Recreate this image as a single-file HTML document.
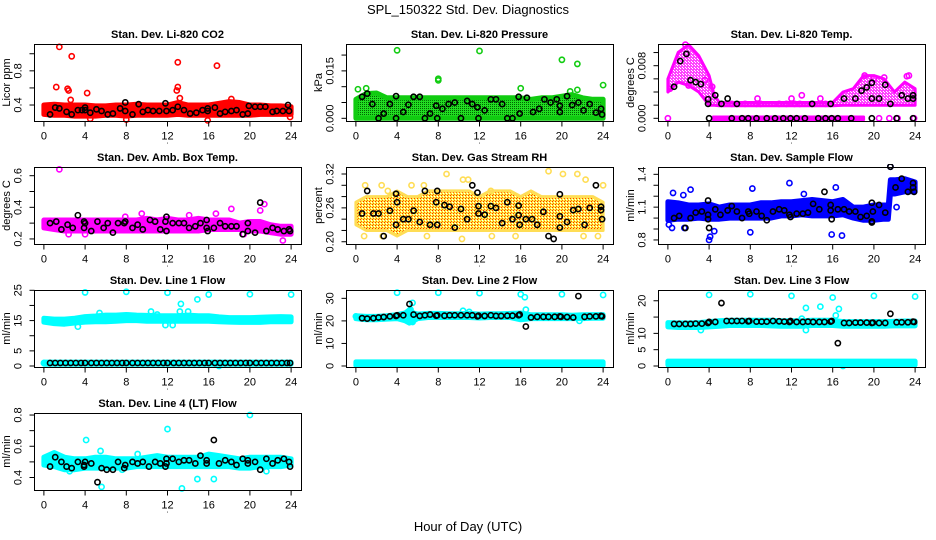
<!DOCTYPE html>
<html><head><meta charset="utf-8"><style>
html,body{margin:0;padding:0;background:#fff;}
svg{display:block;font-family:"Liberation Sans",Arial,sans-serif;}
</style></head><body>
<svg id="chart" width="936" height="540" viewBox="0 0 936 540">
<defs>
<pattern id="rhpat" width="3" height="3" patternUnits="userSpaceOnUse"><rect width="3" height="3" fill="#ffee44"/><rect width="1" height="1" fill="#ff2200"/><rect x="2" y="1" width="1" height="1" fill="#ffffff"/><rect x="1" y="2" width="1" height="1" fill="#ff6600"/></pattern>
<pattern id="prpat" width="2" height="2" patternUnits="userSpaceOnUse"><rect width="2" height="2" fill="#22dd22"/><rect width="1" height="1" fill="#006600"/></pattern>
<pattern id="ltpat" width="3" height="3" patternUnits="userSpaceOnUse"><rect width="3" height="3" fill="#ff44ff"/><rect x="1" y="1" width="1" height="1" fill="#ffffff"/><rect x="2" y="2" width="1" height="1" fill="#ffffff"/></pattern>
</defs>
<text x="468" y="14" text-anchor="middle" font-size="13">SPL_150322  Std. Dev. Diagnostics</text>
<text x="468" y="531" text-anchor="middle" font-size="13">Hour of Day (UTC)</text>
</svg>
<script>
const hours = [0,1,2,3,4,5,6,7,8,9,10,11,12,13,14,15,16,17,18,19,20,21,22,23,24];
const xTicks = [0,4,8,12,16,20,24];

// Panel 1: CO2
const co2BandLo = [0.29,0.28,0.28,0.27,0.27,0.27,0.28,0.28,0.27,0.28,0.28,0.28,0.28,0.29,0.28,0.28,0.28,0.28,0.28,0.28,0.28,0.29,0.29,0.29,0.29];
const co2BandHi = [0.40,0.41,0.40,0.40,0.40,0.39,0.39,0.40,0.40,0.41,0.40,0.40,0.40,0.43,0.40,0.40,0.40,0.42,0.44,0.43,0.40,0.40,0.39,0.39,0.38];
const co2OutX = [1.5,2.7,1.2,2.3,2.4,2.6,4.2,13,12.9,13,13.2,16.8,18.2,15.9,23.9,4.5,8];
const co2OutY = [1.08,0.97,0.61,0.59,0.57,0.46,0.54,0.90,0.57,0.61,0.48,0.86,0.47,0.22,0.26,0.24,0.23];
const co2BlkX = [0.6,1.1,1.5,2.2,2.7,3.3,3.7,4.0,4.0,4.5,5.1,5.6,6.2,6.7,7.4,7.9,7.9,8.6,9.2,9.6,10.1,10.6,11.2,11.8,11.9,12.5,13,13.6,14.2,14.8,15.4,15.9,15.9,16.6,17.1,17.6,18.2,18.7,19.3,19.8,19.9,20.5,21.0,21.5,22.2,22.6,23.2,23.7,23.8];
const co2BlkY = [0.29,0.37,0.36,0.32,0.29,0.34,0.34,0.34,0.37,0.31,0.35,0.33,0.29,0.30,0.36,0.43,0.33,0.29,0.41,0.32,0.34,0.33,0.33,0.42,0.33,0.34,0.38,0.34,0.30,0.31,0.34,0.36,0.33,0.37,0.30,0.32,0.33,0.34,0.29,0.30,0.39,0.38,0.38,0.38,0.32,0.33,0.33,0.40,0.33];

// Panel 2: Pressure
const prBandLo = [0,0,0,0,0,0,0,0,0,0,0,0,0,0,0,0,0,0,0,0,0,0,0,0,0];
const prBandHi = [0.006,0.0078,0.008,0.0065,0.0065,0.0065,0.0065,0.0065,0.0065,0.0065,0.0065,0.0065,0.0065,0.0065,0.0065,0.0065,0.0065,0.006,0.0065,0.0065,0.007,0.0075,0.0065,0.006,0.006];
const prOutX = [4,12,20,21.5,8,8,0.2,1,16,21.5,24,20.8];
const prOutY = [0.0215,0.0213,0.0185,0.0172,0.0125,0.012,0.0092,0.0095,0.0095,0.009,0.0105,0.0085];
const prBlkX = [0.6,1.1,1.6,2.2,2.7,3.3,3.9,3.9,4.6,5.1,5.6,6.2,6.7,7.2,7.8,7.9,8.4,9.0,9.6,10.2,10.8,11.3,11.8,11.9,12.5,13.1,13.6,14.2,14.7,15.2,15.8,15.9,16.6,17.2,17.8,18.3,18.9,19.5,19.8,19.8,20.5,21.0,21.6,22.1,22.7,23.3,23.8,23.9];
const prBlkY = [0.0068,0.0078,0.0045,0,0.0015,0.0045,0.007,0,0.002,0.0043,0.0068,0.0068,0,0.0015,0.004,0,0.003,0.0045,0.005,0,0.0055,0.0045,0.0035,0,0.0025,0.006,0.006,0.0045,0,0,0.0068,0.0015,0.0065,0.002,0.003,0.006,0.005,0.006,0.004,0.002,0.007,0.0042,0.005,0.0025,0.0045,0.0018,0.003,0.0012];

// Panel 3: Li-820 Temp
const ltHours = [0,1,2,3,4,4.5,5,16,17,18,19,20,21,22,23,24];
const ltBandLo = [0.004,0.0055,0.005,0.004,0.002,0.002,0.0019,0.0019,0.002,0.002,0.002,0.002,0.002,0.002,0.002,0.002];
const ltBandHi = [0.006,0.010,0.0112,0.0095,0.0065,0.0035,0.0024,0.0024,0.004,0.0045,0.0065,0.0065,0.006,0.004,0.0055,0.0045];
const ltZeroHours = [4.4,19.0];
const ltZeroLo = [-0.0002,-0.0002];
const ltZeroHi = [0.0002,0.0002];
const ltOutX = [0,0.2,1.7,19.1,20,21,23.2,23.4,13,8.7,12,14.8,4.3,3.6,2,20.5,21.5,22.3,23.9,6.2,7.5,8.6,9.0,10.8,11.5,12.3,12.8,14,15.3];
const ltOutY = [0,0.0045,0.0112,0.0065,0.006,0.0062,0.0064,0.0065,0.0035,0.003,0.003,0.003,0.0048,0.0058,0.005,0,0,0,0,0.0022,0.0022,0.0022,0.0022,0.0022,0.0022,0.0022,0.0022,0.0022,0.0022];
const ltBlkX = [0.6,1.2,1.8,2.2,2.7,3.2,3.9,3.9,4.0,4.6,5.2,5.8,6.2,6.7,7.2,7.8,8.6,9.6,10.4,11.2,11.9,12.5,13.3,14.0,14.6,15.3,15.8,15.9,16.5,17.1,17.8,18.2,18.8,19.3,19.8,19.8,19.8,20.5,21.1,21.6,22.2,22.7,23.3,23.8,23.8,23.8];
const ltBlkY = [0.0048,0.0087,0.0098,0.0058,0.0055,0.0052,0.0029,0.0022,0,0.0035,0.0022,0.003,0,0.0022,0,0,0,0,0,0,0,0,0,0.0022,0,0,0.0022,0,0,0.003,0,0.003,0.0042,0.0047,0.0054,0.003,0,0.003,0.0051,0.0022,0,0.0035,0.003,0.0035,0.003,0];

// Panel 4: Amb Box Temp
const abBandLo = [0.27,0.26,0.25,0.25,0.25,0.25,0.25,0.25,0.25,0.25,0.25,0.25,0.25,0.25,0.25,0.25,0.26,0.26,0.26,0.26,0.25,0.25,0.24,0.23,0.23];
const abBandHi = [0.32,0.32,0.32,0.32,0.32,0.32,0.32,0.32,0.32,0.32,0.33,0.32,0.33,0.32,0.32,0.33,0.32,0.32,0.32,0.30,0.31,0.31,0.29,0.28,0.28];
const abOutX = [1.5,21,21.4,23.2,18.2,16.7,9.5,14.1,7.9,4,2.4,19.4];
const abOutY = [0.64,0.38,0.42,0.19,0.39,0.36,0.36,0.35,0.34,0.23,0.23,0.23];
const abBlkX = [0.6,1.2,1.7,2.3,2.8,3.3,3.9,3.9,4.0,4.6,5.2,5.8,6.2,6.7,7.2,7.8,7.9,8.6,9.1,9.6,10.3,10.8,11.3,11.8,11.9,11.9,12.5,13.1,13.6,14.1,14.7,15.2,15.8,15.8,15.9,16.5,17.1,17.6,18.2,18.7,19.3,19.8,19.8,20.5,21,21.6,22.2,22.7,23.3,23.8,23.9];
const abBlkY = [0.30,0.31,0.26,0.29,0.27,0.35,0.31,0.27,0.30,0.25,0.31,0.27,0.30,0.24,0.30,0.30,0.31,0.27,0.29,0.26,0.32,0.31,0.26,0.31,0.34,0.25,0.30,0.30,0.30,0.27,0.28,0.30,0.32,0.27,0.25,0.27,0.30,0.28,0.28,0.28,0.23,0.30,0.25,0.24,0.43,0.25,0.27,0.26,0.25,0.26,0.25];

// Panel 5: Gas Stream RH
const rhBandLo = [0.23,0.22,0.22,0.22,0.21,0.22,0.22,0.22,0.22,0.22,0.22,0.22,0.22,0.22,0.22,0.22,0.22,0.22,0.22,0.22,0.22,0.22,0.22,0.22,0.22];
const rhBandHi = [0.27,0.28,0.28,0.28,0.29,0.28,0.28,0.29,0.29,0.29,0.29,0.29,0.28,0.29,0.29,0.29,0.28,0.29,0.28,0.28,0.28,0.28,0.28,0.28,0.27];
const rhOutX = [0.9,2.5,3.1,5.4,6.6,8.8,10.4,10.9,13.1,18.7,20.1,21.5,22.3,24,0.8,2.6,10.3,13.2,22.1,23.5,15.5,6.9];
const rhOutY = [0.30,0.30,0.29,0.30,0.30,0.32,0.31,0.31,0.29,0.325,0.32,0.32,0.31,0.30,0.21,0.21,0.205,0.21,0.21,0.21,0.21,0.21];
const rhBlkX = [0.6,1.1,1.7,2.2,2.7,3.3,3.9,3.9,4.0,4.6,5.1,5.6,6.2,6.7,7.2,7.8,7.9,7.9,8.6,9.1,9.6,10.2,10.8,11.3,11.8,11.9,11.9,12.5,13.1,13.6,14.2,14.7,15.2,15.8,15.8,15.9,16.5,17.1,17.6,18.2,18.7,19.2,19.8,19.8,19.8,20.5,21.1,21.6,22.2,22.7,23.3,23.8,23.8,23.9];
const rhBlkY = [0.25,0.29,0.25,0.25,0.21,0.255,0.285,0.23,0.27,0.24,0.24,0.255,0.235,0.29,0.23,0.27,0.23,0.29,0.265,0.262,0.225,0.258,0.24,0.30,0.287,0.25,0.263,0.248,0.263,0.26,0.233,0.27,0.24,0.264,0.247,0.23,0.24,0.24,0.23,0.253,0.21,0.205,0.284,0.245,0.225,0.235,0.256,0.258,0.23,0.26,0.30,0.262,0.256,0.24];

// Panel 6: Sample Flow
const sfHours = [0,1,2,3,4,5,6,7,8,9,10,11,12,13,14,15,16,17,18,19,20,21,21.4,21.6,22,23,24];
const sfBandLo = [0.98,0.99,0.99,1.0,0.99,0.99,1.0,1.0,1.0,1.0,1.0,1.02,1.02,1.03,1.02,1.02,1.02,1.03,1.0,0.98,0.98,0.99,0.99,1.22,1.22,1.24,1.24];
const sfBandHi = [1.15,1.14,1.12,1.12,1.13,1.10,1.12,1.12,1.12,1.14,1.14,1.15,1.15,1.16,1.17,1.16,1.15,1.17,1.10,1.10,1.12,1.12,1.12,1.35,1.35,1.36,1.33];
const sfOutX = [0.1,0.4,1.6,4.1,4.0,4.5,8.0,15.9,16.9,11.8,13.2,16.3,8.2,2.2,0.5,1.5,22.2,21.6];
const sfOutY = [0.94,0.91,0.91,0.83,0.8,0.88,0.87,0.85,0.84,1.32,1.22,1.28,1.27,1.26,1.23,1.21,1.1,1.47];
const sfBlkX = [0.6,1.1,1.7,2.2,2.7,3.3,3.9,3.9,3.9,4.0,4.6,5.1,5.8,6.2,6.7,7.2,7.8,7.9,8.6,9.1,9.6,10.2,10.8,11.3,11.8,11.9,12.5,13.1,13.6,14.1,14.7,15.2,15.8,15.8,15.9,16.5,17.1,17.6,18.2,18.7,19.3,19.8,19.8,19.8,19.9,20.5,21.1,21.6,22.1,22.7,23.3,23.8,23.9,23.8];
const sfBlkY = [1.0,1.02,0.91,1.0,1.05,1.06,1.16,1.03,0.99,0.91,1.08,1.03,1.07,1.11,1.06,1.0,1.06,1.04,1.06,1.02,0.98,1.06,1.08,1.07,1.03,1.01,1.04,1.04,1.05,1.13,1.08,1.24,1.12,1.07,0.99,1.08,1.08,1.06,1.06,1.01,1.02,1.14,0.97,0.96,1.06,1.12,1.05,1.47,1.28,1.36,1.24,1.28,1.24,1.32];

// Panel 7: Line 1 Flow
const l1BandLo = [14.5,14,13.8,14.2,14.5,14.6,14.6,14.8,15,15,14.8,14.8,14.8,14.8,14.8,14.8,14.8,14.6,14.5,14.4,14.4,14.4,14.6,14.6,14.6];
const l1BandHi = [15.8,15.5,15.5,15.8,16.3,16.5,16.8,16.8,17,16.8,16.7,16.6,16.6,16.6,16.8,16.6,16.6,16.2,16,16,16,16.1,16.2,16.3,16.2];
const l1ZeroLo = [0.6,0.6,0.6,0.6,0.6,0.6,0.6,0.6,0.6,0.6,0.6,0.6,0.6,0.6,0.6,0.6,0.6,0.6,0.6,0.6,0.6,0.6,0.6,0.6,0.6];
const l1ZeroHi = [1.3,1.3,1.3,1.3,1.3,1.3,1.3,1.3,1.3,1.3,1.3,1.3,1.3,1.3,1.3,1.3,1.3,1.3,1.3,1.3,1.3,1.3,1.3,1.3,1.3];
const l1OutX = [4,8,12,16,20,24,14.9,13.3,13.2,14,10.4,5.4,11,3.3,11.8,12.5,0,17];
const l1OutY = [24.3,24.5,24.2,23.6,23.7,23.6,22,20.5,18,18,18,17.5,17,13,13.5,13.5,1,0];
const l1BlkX = [0.6,1.1,1.6,2.1,2.6,3.1,3.6,4.0,4.6,5.1,5.6,6.1,6.6,7.1,7.6,8.0,8.6,9.1,9.6,10.1,10.6,11.1,11.6,12.0,12.6,13.1,13.6,14.1,14.6,15.1,15.6,16.0,16.6,17.1,17.6,18.1,18.6,19.1,19.6,20.0,20.6,21.1,21.6,22.1,22.6,23.1,23.6,23.9];
const l1BlkY = [1,1,1,1,1,1,1,1,1,1,1,1,1,1,1,1,1,1,1,1,1,1,1,1,1,1,1,1,1,1,1,1,1,1,1,1,1,1,1,1,1,1,1,1,1,1,1,1];

// Panel 8: Line 2 Flow
const l2Hours = [0,1,2,3,4,4.8,5.2,5.6,6,7,8,9,10,11,12,13,14,15,16,17,18,19,20,21,22,23,24];
const l2BandLo = [21,20.5,20.5,20.8,21,20,19,20,21,21.5,21.5,21.5,21.5,21.5,21.3,21.5,21.5,21.5,20.5,21,21,21,21,21,21,21.2,21.2];
const l2BandHi = [22.3,22,22,22.3,22.8,23.5,25,23.5,23,23.3,23.3,23.2,23.2,23.3,23,23.2,23.2,23.3,23.5,22.7,22.7,22.7,22.7,22.5,22.7,22.8,22.8];
const l2ZeroLo = [0.2,0.2,0.2,0.2,0.2,0.2,0.2,0.2,0.2,0.2,0.2,0.2,0.2,0.2,0.2,0.2,0.2,0.2,0.2,0.2,0.2,0.2,0.2,0.2,0.2,0.2,0.2];
const l2ZeroHi = [1.8,1.8,1.8,1.8,1.8,1.8,1.8,1.8,1.8,1.8,1.8,1.8,1.8,1.8,1.8,1.8,1.8,1.8,1.8,1.8,1.8,1.8,1.8,1.8,1.8,1.8,1.8];
const l2OutX = [4,8,12,16,16.4,20,24,10.4,11,16.5,21.7,5.5,5.3,5.5,0];
const l2OutY = [32.5,32.5,32.3,31.8,30.5,31.8,31.5,24.5,24,25,20,28,25,19.5,22];
const l2BlkX = [0.6,1.1,1.7,2.2,2.7,3.3,3.9,4,4.6,5.2,5.6,6.2,6.7,7.2,7.8,7.9,8.6,9.1,9.6,10.2,10.8,11.3,11.8,11.9,12.5,13.1,13.6,14.1,14.7,15.2,15.8,15.9,16.5,17,17.6,18.2,18.7,19.3,19.8,19.9,20.5,21.1,21.6,22.2,22.7,23.3,23.8,23.9];
const l2BlkY = [21.2,21,21.2,21.5,21.7,22,22.2,22.5,22.5,27.5,22.8,22.2,22.5,22.8,22.3,22.5,22.3,22.5,22.5,22.5,22.5,22.5,22,22.3,22.2,22.5,22.2,22.2,22.3,22.3,22.5,22.8,17.5,21.5,21.8,21.8,21.8,21.8,22,21.8,21.7,21.5,31,21.8,22,22,22.2,22];

// Panel 9: Line 3 Flow
const l3BandLo = [12,11.8,11.8,11.8,12,12.2,12.4,12.4,12.4,12.4,12.3,12.2,12.2,12.2,12.4,12.4,12.4,12.2,12.2,12.2,12.2,12.2,12.3,12.3,12.3];
const l3BandHi = [13.3,13.2,13.2,13.3,13.6,13.9,14,14,14,14,14,13.9,13.9,13.9,14,14,14,13.6,13.6,13.6,13.6,13.6,13.7,13.8,13.8];
const l3ZeroLo = [0.3,0.3,0.3,0.3,0.3,0.3,0.3,0.3,0.3,0.3,0.3,0.3,0.3,0.3,0.3,0.3,0.3,0.3,0.3,0.3,0.3,0.3,0.3,0.3,0.3];
const l3ZeroHi = [1.5,1.5,1.5,1.5,1.5,1.5,1.5,1.5,1.5,1.5,1.5,1.5,1.5,1.5,1.5,1.5,1.5,1.5,1.5,1.5,1.5,1.5,1.5,1.5,1.5];
const l3OutX = [4,8,12,16,20,24,13.4,14.8,16.6,16.3,13,3.2,13.4,17];
const l3OutY = [21.8,22,21.5,21,21.5,21.3,17.8,18.2,17.5,15.5,14.5,11,11,0];
const l3BlkX = [0.6,1.1,1.7,2.2,2.7,3.3,3.9,4,4.6,5.2,5.7,6.2,6.7,7.2,7.8,7.9,8.6,9.1,9.6,10.2,10.8,11.3,11.8,11.9,12.5,13.1,13.6,14.1,14.7,15.2,15.8,15.9,16.5,17.1,17.6,18.2,18.7,19.3,19.8,19.9,20.5,21.1,21.6,22.2,22.7,23.3,23.8,23.9];
const l3BlkY = [12.9,12.9,12.9,12.9,13,13,13.2,13.5,13.5,19.3,13.8,13.8,13.8,13.8,13.7,13.8,13.6,13.6,13.6,13.8,13.7,13.6,13.5,13.8,13.5,13.5,13.6,13.5,13.5,13.5,13.6,13.8,7,13.2,13.2,13.3,13.3,13.3,13.2,13.3,13.2,13.2,16,13.4,13.4,13.4,13.6,13.5];

// Panel 10: Line 4 (LT) Flow
const l4BandLo = [0.48,0.47,0.45,0.45,0.46,0.46,0.46,0.46,0.46,0.47,0.47,0.47,0.47,0.47,0.47,0.47,0.47,0.47,0.47,0.46,0.46,0.47,0.47,0.47,0.48];
const l4BandHi = [0.53,0.56,0.53,0.52,0.52,0.53,0.53,0.52,0.52,0.52,0.53,0.54,0.53,0.53,0.53,0.53,0.55,0.54,0.53,0.52,0.53,0.53,0.53,0.53,0.52];
const l4OutX = [20,12,4.1,5.5,9.1,13.4,14.9,16.5,5.6,2.5,21.6,7.6];
const l4OutY = [0.80,0.71,0.64,0.57,0.55,0.33,0.39,0.39,0.34,0.44,0.44,0.45];
const l4BlkX = [0.6,1.1,1.7,2.2,2.7,3.3,3.9,3.9,4,4.6,5.2,5.6,6.1,6.7,7.2,7.8,7.9,8.6,9.1,9.6,10.2,10.8,11.3,11.8,11.9,11.9,12.5,13.1,13.6,14.1,14.7,15.2,15.8,15.8,16.5,17,17.6,18.2,18.7,19.3,19.8,19.8,20.5,21,21.6,22.2,22.7,23.3,23.8,23.9];
const l4BlkY = [0.47,0.53,0.50,0.47,0.46,0.50,0.48,0.47,0.50,0.49,0.37,0.46,0.45,0.45,0.50,0.46,0.48,0.50,0.49,0.50,0.47,0.50,0.49,0.47,0.49,0.52,0.52,0.50,0.51,0.51,0.49,0.54,0.51,0.49,0.64,0.49,0.51,0.50,0.48,0.52,0.51,0.49,0.50,0.45,0.52,0.49,0.51,0.52,0.50,0.47];

const NS = 'http://www.w3.org/2000/svg';
const svg = document.getElementById('chart');
function mk(tag, attrs, parent) {
  const e = document.createElementNS(NS, tag);
  for (const k in attrs) e.setAttribute(k, attrs[k]);
  (parent || svg).appendChild(e);
  return e;
}
const colLeft = [34, 346, 658];
const rowTop = [44, 167, 290, 413];
const W = 267, H = 77;

const panels = [
  {key:'co2', title:'Stan. Dev. Li-820 CO2', yt:'Licor ppm', c:0, r:0, ymin:0.213, ymax:1.114, ticks:[0.4,0.6,0.8,1.0], labels:[0.4,0.8], fmt:1, color:'#ff0000',
    bands:[[hours,co2BandLo,co2BandHi]], ox:co2OutX, oy:co2OutY, bx:co2BlkX, by:co2BlkY},
  {key:'pressure', title:'Stan. Dev. Li-820 Pressure', yt:'kPa', c:1, r:0, ymin:-0.00085, ymax:0.0235, ticks:[0,0.005,0.01,0.015,0.02], labels:[0,0.015], fmt:3, color:'url(#prpat)', stroke:'#11cc11',
    bands:[[hours,prBandLo,prBandHi]], ox:prOutX, oy:prOutY, bx:prBlkX, by:prBlkY},
  {key:'li-temp', title:'Stan. Dev. Li-820 Temp.', yt:'degrees C', c:2, r:0, ymin:-0.00041, ymax:0.0113, ticks:[0,0.002,0.004,0.006,0.008,0.010], labels:[0,0.008], fmt:3, color:'url(#ltpat)', stroke:'#ff00ff', sw:3,
    bands:[[ltHours,ltBandLo,ltBandHi],[ltZeroHours,ltZeroLo,ltZeroHi]], ox:ltOutX, oy:ltOutY, bx:ltBlkX, by:ltBlkY},
  {key:'amb-temp', title:'Stan. Dev. Amb. Box Temp.', yt:'degrees C', c:0, r:1, ymin:0.168, ymax:0.655, ticks:[0.2,0.3,0.4,0.5,0.6], labels:[0.2,0.4,0.6], fmt:1, color:'#ff00ff',
    bands:[[hours,abBandLo,abBandHi]], ox:abOutX, oy:abOutY, bx:abBlkX, by:abBlkY},
  {key:'rh', title:'Stan. Dev. Gas Stream RH', yt:'percent', c:1, r:1, ymin:0.196, ymax:0.3324, ticks:[0.20,0.22,0.24,0.26,0.28,0.30,0.32], labels:[0.20,0.26,0.32], fmt:2, color:'url(#rhpat)', stroke:'#ffdd55', sw:3,
    bands:[[hours,rhBandLo,rhBandHi]], ox:rhOutX, oy:rhOutY, bx:rhBlkX, by:rhBlkY},
  {key:'sample-flow', title:'Stan. Dev. Sample Flow', yt:'ml/min', c:2, r:1, ymin:0.763, ymax:1.467, ticks:[0.8,0.9,1.0,1.1,1.2,1.3,1.4], labels:[0.8,1.1,1.4], fmt:1, color:'#0000ff',
    bands:[[sfHours,sfBandLo,sfBandHi]], ox:sfOutX, oy:sfOutY, bx:sfBlkX, by:sfBlkY},
  {key:'line1', title:'Stan. Dev. Line 1 Flow', yt:'ml/min', c:0, r:2, ymin:-0.33, ymax:25.1, ticks:[0,5,10,15,20,25], labels:[0,5,15,25], fmt:0, color:'#00ffff',
    bands:[[hours,l1BandLo,l1BandHi],[hours,l1ZeroLo,l1ZeroHi]], ox:l1OutX, oy:l1OutY, bx:l1BlkX, by:l1BlkY},
  {key:'line2', title:'Stan. Dev. Line 2 Flow', yt:'ml/min', c:1, r:2, ymin:-0.45, ymax:33.7, ticks:[0,10,20,30], labels:[0,10,20,30], fmt:0, color:'#00ffff',
    bands:[[l2Hours,l2BandLo,l2BandHi],[l2Hours,l2ZeroLo,l2ZeroHi]], ox:l2OutX, oy:l2OutY, bx:l2BlkX, by:l2BlkY},
  {key:'line3', title:'Stan. Dev. Line 3 Flow', yt:'ml/min', c:2, r:2, ymin:-0.31, ymax:23.3, ticks:[0,5,10,15,20], labels:[0,5,10,20], fmt:0, color:'#00ffff',
    bands:[[hours,l3BandLo,l3BandHi],[hours,l3ZeroLo,l3ZeroHi]], ox:l3OutX, oy:l3OutY, bx:l3BlkX, by:l3BlkY},
  {key:'line4', title:'Stan. Dev. Line 4 (LT) Flow', yt:'ml/min', c:0, r:3, ymin:0.32, ymax:0.813, ticks:[0.4,0.5,0.6,0.7,0.8], labels:[0.4,0.6,0.8], fmt:1, color:'#00ffff',
    bands:[[hours,l4BandLo,l4BandHi]], ox:l4OutX, oy:l4OutY, bx:l4BlkX, by:l4BlkY}
];

panels.forEach(p => {
  const L = colLeft[p.c], T = rowTop[p.r];
  const xs = h => L + (h + 0.96) / 25.92 * W;
  const ys = v => T + H - (v - p.ymin) / (p.ymax - p.ymin) * H;
  const g = mk('g', {});
  
  
  const clipId = 'clip-' + p.key;
  const cp = mk('clipPath', {id: clipId}, g);
  mk('rect', {x: L - 3, y: T - 3, width: W + 6, height: H + 6}, cp);
  const plot = mk('g', {'clip-path': 'url(#' + clipId + ')'}, g);
  p.bands.forEach(b => {
    const [hx, lo, hi] = b;
    let pts = [];
    for (let i = 0; i < hx.length; i++) pts.push(xs(hx[i]).toFixed(1) + ',' + ys(hi[i]).toFixed(1));
    for (let i = hx.length - 1; i >= 0; i--) pts.push(xs(hx[i]).toFixed(1) + ',' + ys(lo[i]).toFixed(1));
    const poly = mk('polygon', {points: pts.join(' '), fill: p.color, stroke: p.stroke || p.color, 'stroke-width': p.sw || 5, 'stroke-linejoin': 'round'}, plot);
    
    
  });
  p.ox.forEach((h, i) => {
    const c = mk('circle', {cx: xs(h), cy: ys(p.oy[i]), r: 2.6, fill: 'none', stroke: p.stroke || p.color, 'stroke-width': 1.6}, plot);
    
    
  });
  p.bx.forEach((h, i) => {
    const c = mk('circle', {cx: xs(h), cy: ys(p.by[i]), r: 2.6, fill: 'none', stroke: '#000', 'stroke-width': 1.6}, plot);
    
    
  });
  const box = mk('rect', {x: L + 0.5, y: T + 0.5, width: W, height: H, fill: 'none', stroke: '#000', 'stroke-width': 1}, g);
  
  
  const by = T + H + 0.5;
  mk('line', {x1: xs(0), x2: xs(24), y1: by, y2: by, stroke: '#000'}, g);
  xTicks.forEach(t => {
    mk('line', {x1: xs(t), x2: xs(t), y1: by, y2: by + 5, stroke: '#000'}, g);
    const tx = mk('text', {x: xs(t), y: by + 18, 'text-anchor': 'middle', 'font-size': 11}, g);
    tx.textContent = t;
    
    
  });
  const dot = mk('text', {x: L + W / 2, y: by + 22, 'text-anchor': 'middle', 'font-size': 8}, g);
  dot.textContent = '.';
  const ax = L + 0.5;
  mk('line', {x1: ax, x2: ax, y1: ys(p.ticks[0]), y2: ys(p.ticks[p.ticks.length - 1]), stroke: '#000'}, g);
  p.ticks.forEach(t => {
    mk('line', {x1: ax - 5, x2: ax, y1: ys(t), y2: ys(t), stroke: '#000'}, g);
  });
  p.labels.forEach(t => {
    const yy = ys(t);
    const tx = mk('text', {x: ax - 13, y: yy, 'text-anchor': 'middle', 'font-size': 11, transform: 'rotate(-90 ' + (ax - 13) + ' ' + yy + ')'}, g);
    tx.textContent = t.toFixed(p.fmt);
    
    
  });
  const yc = T + H / 2;
  const yt = mk('text', {x: L - 24, y: yc, 'text-anchor': 'middle', 'font-size': 11, transform: 'rotate(-90 ' + (L - 24) + ' ' + yc + ')'}, g);
  yt.textContent = p.yt;
  
  
  const tt = mk('text', {x: L + W / 2, y: T - 6, 'text-anchor': 'middle', 'font-size': 11, 'font-weight': 'bold'}, g);
  tt.textContent = p.title;
  
  
});
</script>
</body></html>
